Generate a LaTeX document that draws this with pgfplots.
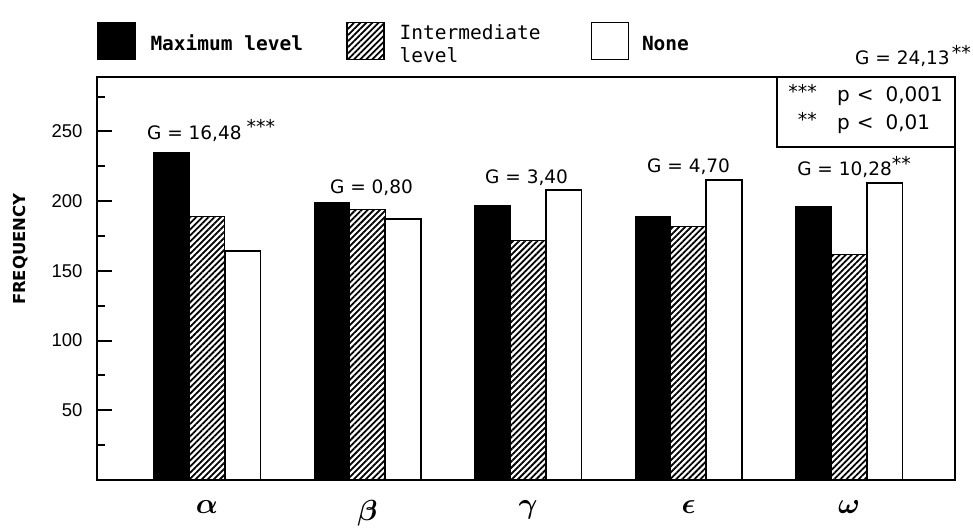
\RequirePackage{fix-cm}
\documentclass[border=0pt]{standalone}
\usepackage{pgfplots}
\pgfplotsset{compat=1.18}
\usetikzlibrary{patterns.meta}
\usepackage{bm}
\usepackage{fontspec}
\setmainfont{DejaVu Sans}
\newfontfamily\legfont{DejaVu Sans Mono}
\newfontfamily\tickfont{Liberation Sans}
\newcommand{\stars}[2]{\raisebox{#1}{\fontsize{19}{19}\selectfont #2}}
\begin{document}
\begin{tikzpicture}
\useasboundingbox (-97pt,-49pt) rectangle (876pt,480pt);
\begin{axis}[
  at={(0,0)}, anchor=south west,
  scale only axis, width=858pt, height=403pt,
  xmin=-0.685, xmax=4.66, ymin=0, ymax=289,
  axis line style={line width=2pt},
  xtick={0,1,2,3,4},
  xticklabels={$\bm{\alpha}$,$\bm{\beta}$,$\bm{\gamma}$,$\bm{\epsilon}$,$\bm{\omega}$},
  xtick style={draw=none},
  x tick label style={font=\fontsize{29}{29}\selectfont, yshift=-2pt},
  ytick={50,100,150,200,250},
  minor ytick={25,75,125,175,225,275},
  ytick pos=left, tick align=inside,
  ytick style={line width=2pt, black},
  major tick length=15pt, minor tick length=8pt,
  y tick label style={font=\tickfont\fontsize{18.5}{18.5}\selectfont, xshift=-11pt},
  /pgf/number format/assume math mode=true,
  ylabel={FREQUENCY},
  ylabel style={font=\bfseries\fontsize{16.5}{16.5}\selectfont, at={(axis description cs:-0.0886,0.573)}, anchor=center},
  ybar, bar width=0.222,
  clip=false,
  legend columns=3,
  legend style={at={(axis description cs:0,1)}, anchor=south west, yshift=13pt,
    draw=none, fill=none, inner sep=0pt, outer sep=0pt,
    font=\legfont\fontsize{19.5}{23}\selectfont,
    nodes={inner sep=0pt},
    /tikz/column 1/.style={column sep=15pt},
    /tikz/column 2/.style={column sep=43pt},
    /tikz/column 3/.style={column sep=15pt},
    /tikz/column 4/.style={column sep=50pt},
    /tikz/column 5/.style={column sep=13pt}},
  legend cell align=left,
  legend image code/.code={\draw[line width=1.5pt,#1] (0pt,-16pt) rectangle (37pt,21pt);},
]
\addplot[ybar, bar shift=-0.222, fill=black, draw=black, line width=1pt]
  coordinates {(0,235) (1,199) (2,197) (3,189) (4,196)};
\addlegendentry{\bfseries Maximum level}
\addplot[ybar, bar shift=0, draw=black, line width=1pt, pattern={Lines[angle=45,distance=4.3pt,line width=1.8pt]}, pattern color=black]
  coordinates {(0,189) (1,194) (2,172) (3,182) (4,162)};
\addlegendentry{\begin{tabular}[b]{@{}l@{}}Intermediate\\level\end{tabular}}
\addplot[ybar, bar shift=0.222, fill=white, draw=black, line width=1.8pt]
  coordinates {(0,164) (1,187) (2,208) (3,215) (4,213)};
\addlegendentry{\bfseries None}

\node[anchor=base west, inner sep=0pt, font=\fontsize{18.5}{18.5}\selectfont] at (axis cs:-0.374,243.9) {G = 16,48\hspace{5pt}\stars{6pt}{***}};
\node[anchor=base west, inner sep=0pt, font=\fontsize{18.5}{18.5}\selectfont] at (axis cs:0.766,205.3) {G = 0,80};
\node[anchor=base west, inner sep=0pt, font=\fontsize{18.5}{18.5}\selectfont] at (axis cs:1.732,212.4) {G = 3,40};
\node[anchor=base west, inner sep=0pt, font=\fontsize{18.5}{18.5}\selectfont] at (axis cs:2.741,220.3) {G = 4,70};
\node[anchor=base west, inner sep=0pt, font=\fontsize{18.5}{18.5}\selectfont] at (axis cs:3.676,218.2) {G = 10,28\stars{5pt}{**}};
\node[anchor=base west, inner sep=0pt, font=\fontsize{18.5}{18.5}\selectfont] at (axis cs:4.037,297.6) {G = 24,13\hspace{2pt}\stars{5pt}{**}};

\draw[line width=2pt] (axis cs:3.551,289) rectangle (axis cs:4.66,238.9);
\node[anchor=base east, inner sep=0pt] at (axis cs:3.80,271.1) {\stars{3pt}{***}};
\node[anchor=base west, inner sep=0pt, font=\fontsize{20}{20}\selectfont] at (axis cs:3.925,271.1) {p\hspace{7pt}<\hspace{12pt}0,001};
\node[anchor=base east, inner sep=0pt] at (axis cs:3.80,251.1) {\stars{3pt}{**}};
\node[anchor=base west, inner sep=0pt, font=\fontsize{20}{20}\selectfont] at (axis cs:3.925,251.1) {p\hspace{7pt}<\hspace{12pt}0,01};
\end{axis}
\end{tikzpicture}
\end{document}
